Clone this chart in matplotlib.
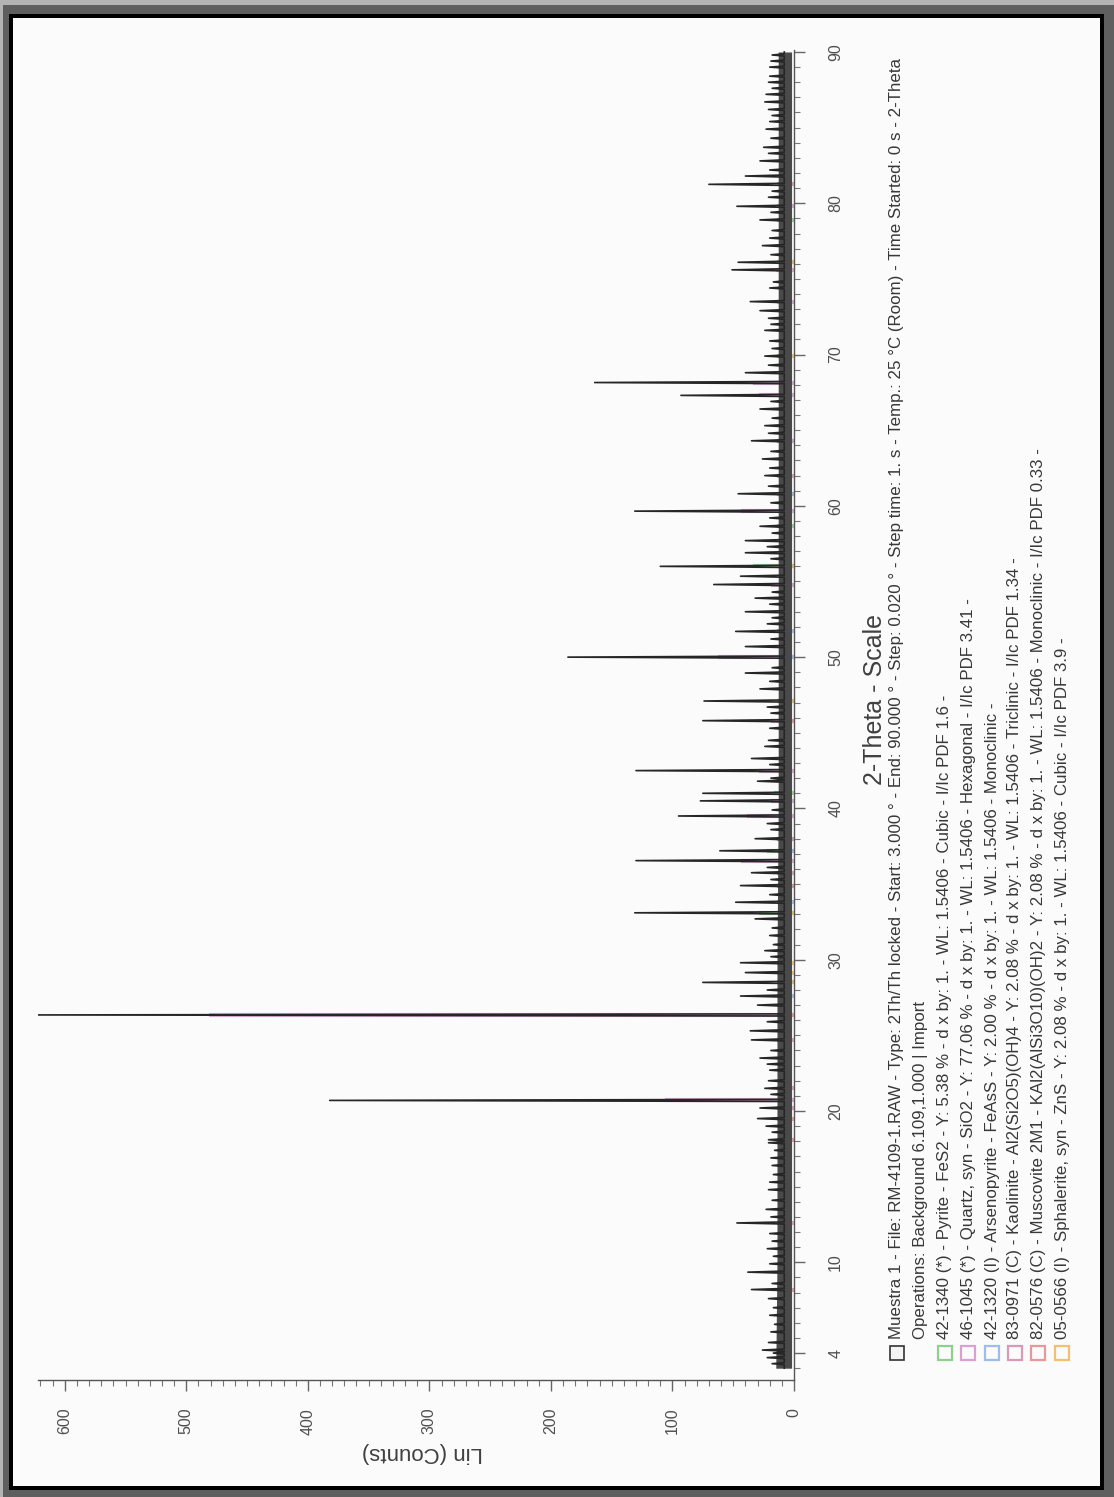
import numpy as np
import matplotlib
matplotlib.use('Agg')
import matplotlib.pyplot as plt
from matplotlib.patches import Rectangle

# ---------------- data ----------------
# measured pattern: main peaks (2-theta, Lin counts)
peak_theta = [4.2, 4.7, 8.2, 9.35, 12.6, 14.8, 16.4, 18.1, 19.5, 20.2, 20.7, 21.5,
              22.7, 23.5, 24.7, 25.3, 26.35, 27.0, 27.6, 28.5, 29.15, 29.8, 30.6,
              31.6, 32.7, 33.1, 33.8, 34.9, 35.75, 36.55, 37.2, 38.0, 39.5, 40.5,
              41.0, 41.8, 42.5, 43.3, 44.1, 45.8, 47.1, 47.9, 48.95, 50.0, 50.7,
              51.7, 53.0, 53.9, 54.8, 55.35, 56.0, 56.9, 57.7, 58.65, 59.65, 60.8,
              62.0, 63.1, 64.3, 65.3, 66.4, 67.3, 68.15, 68.8, 69.9, 71.6, 72.9,
              73.5, 75.6, 76.1, 77.2, 78.9, 79.8, 81.25, 81.8, 82.8, 83.7, 84.9,
              86.7, 87.2, 88.0, 89.0]
peak_counts = [26, 21, 35, 38, 47, 21, 18, 21, 30, 28, 382, 24,
               20, 28, 35, 36, 625, 30, 44, 75, 40, 44, 24,
               20, 32, 131, 48, 44, 35, 130, 61, 32, 95, 77,
               75, 30, 130, 35, 24, 75, 74, 28, 40, 186, 40,
               48, 40, 32, 66, 44, 110, 40, 40, 28, 131, 46,
               24, 26, 35, 24, 28, 93, 164, 40, 24, 24, 28,
               36, 51, 46, 26, 28, 47, 70, 40, 28, 25, 23,
               24, 23, 21, 20]

# small "grass" peaks along the baseline
grass_theta = [3.3, 3.7, 4.0, 5.4, 5.9, 6.5, 7.0, 7.6, 8.6, 9.9, 10.4, 10.9, 11.4,
               11.9, 13.0, 13.5, 14.1, 15.3, 15.8, 16.9, 17.4, 17.9, 18.6, 19.0,
               21.1, 22.0, 23.1, 24.0, 25.9, 28.0, 30.2, 31.0, 32.1, 34.3, 35.3,
               36.1, 38.6, 39.0, 39.9, 42.0, 42.9, 44.5, 45.3, 46.3, 46.7, 48.4,
               49.3, 51.2, 52.2, 52.6, 53.5, 54.3, 56.5, 57.3, 58.2, 59.2, 60.2,
               61.3, 62.5, 63.6, 64.8, 65.8, 66.9, 69.3, 70.4, 70.9, 72.0, 72.4,
               74.4, 74.8, 76.6, 77.7, 78.2, 79.4, 80.4, 80.8, 82.2, 83.3, 84.3,
               85.4, 85.8, 86.2, 87.6, 88.4, 89.4, 89.8]
grass_counts = [18, 22, 17, 19, 16, 20, 17, 21, 18, 20, 17, 22, 18,
                20, 19, 23, 18, 20, 17, 19, 16, 21, 18, 23,
                19, 21, 22, 19, 22, 22, 19, 17, 18, 20, 19,
                22, 19, 22, 18, 19, 20, 21, 20, 19, 22, 20,
                18, 19, 22, 18, 20, 18, 19, 22, 18, 20, 19,
                21, 20, 19, 21, 18, 19, 21, 18, 20, 19, 21,
                20, 17, 19, 20, 18, 19, 21, 18, 20, 21, 19,
                20, 18, 21, 18, 20, 19, 18]

# baseline noise band (2-theta, lower / upper counts)
band_theta = [3.0, 10.0, 20.0, 30.0, 40.0, 50.0, 60.0, 70.0, 80.0, 90.0]
band_low = [2, 2, 2, 2, 2, 2, 2, 2, 2, 2]
band_high = [15, 14, 14, 14, 13, 13, 13, 13, 13, 13]

# reference phases: name, Y (%), stick positions, relative intensities
phase_names = ["Pyrite", "Quartz", "Arsenopyrite", "Kaolinite", "Muscovite", "Sphalerite"]
phase_y = [5.38, 77.06, 2.00, 2.08, 2.08, 2.08]
pyrite_theta = [28.5, 33.1, 37.2, 41.0, 47.1, 56.0, 58.7, 60.8, 64.3, 76.1, 78.9, 81.25]
pyrite_int = [35, 85, 65, 50, 40, 100, 15, 15, 20, 10, 10, 10]
quartz_theta = [20.7, 26.35, 36.55, 39.5, 40.5, 42.5, 45.8, 50.0, 54.8, 59.65, 64.3,
                67.3, 68.15, 73.5, 75.6, 79.8, 81.25]
quartz_int = [22, 100, 9, 8, 4, 6, 4, 13, 4, 9, 2, 6, 7, 2, 3, 2, 2]
arseno_theta = [27.6, 33.8, 34.9, 37.2, 38.0, 50.0, 51.7, 56.0, 60.8]
arseno_int = [40, 100, 60, 60, 40, 45, 30, 30, 20]
kaol_theta = [12.6, 20.2, 21.5, 24.7, 35.75, 38.0, 62.0]
kaol_int = [100, 40, 30, 85, 30, 30, 20]
musc_theta = [8.2, 18.1, 19.5, 26.35, 34.9, 45.8]
musc_int = [100, 30, 40, 60, 50, 40]
sphal_theta = [28.5, 29.15, 29.8, 33.1, 47.1, 56.0, 69.9, 76.1]
sphal_int = [100, 80, 60, 10, 50, 30, 6, 9]
phase_theta = [pyrite_theta, quartz_theta, arseno_theta, kaol_theta, musc_theta, sphal_theta]
phase_int = [pyrite_int, quartz_int, arseno_int, kaol_int, musc_int, sphal_int]
phase_colors = ['#8fd08f', '#d9a0d0', '#9fbdea', '#d99ab8', '#e8989a', '#f1c070']

count_ticks = [0, 100, 200, 300, 400, 500, 600]
theta_ticks = [4, 10, 20, 30, 40, 50, 60, 70, 80, 90]

legend_lines = [
    "Muestra 1 - File: RM-4109-1.RAW - Type: 2Th/Th locked - Start: 3.000 ° - End: 90.000 ° - Step: 0.020 ° - Step time: 1. s - Temp.: 25 °C (Room) - Time Started: 0 s - 2-Theta",
    "Operations: Background 6.109,1.000 | Import",
    "42-1340 (*) - Pyrite - FeS2 - Y: 5.38 % - d x by: 1. - WL: 1.5406 - Cubic - I/Ic PDF 1.6 -",
    "46-1045 (*) - Quartz, syn - SiO2 - Y: 77.06 % - d x by: 1. - WL: 1.5406 - Hexagonal - I/Ic PDF 3.41 -",
    "42-1320 (I) - Arsenopyrite - FeAsS - Y: 2.00 % - d x by: 1. - WL: 1.5406 - Monoclinic -",
    "83-0971 (C) - Kaolinite - Al2(Si2O5)(OH)4 - Y: 2.08 % - d x by: 1. - WL: 1.5406 - Triclinic - I/Ic PDF 1.34 -",
    "82-0576 (C) - Muscovite 2M1 - KAl2(AlSi3O10)(OH)2 - Y: 2.08 % - d x by: 1. - WL: 1.5406 - Monoclinic - I/Ic PDF 0.33 -",
    "05-0566 (I) - Sphalerite, syn - ZnS - Y: 2.08 % - d x by: 1. - WL: 1.5406 - Cubic - I/Ic PDF 3.9 -",
]

# ---------------- figure ----------------
W, H = 1114, 1497
plt.rcParams['font.family'] = ['Liberation Sans', 'DejaVu Sans']
fig = plt.figure(figsize=(W / 100, H / 100), dpi=100)
fig.patch.set_facecolor('#b4b4b4')


def rect_px(x, y, w, h, color, z):
    fig.add_artist(Rectangle((x / W, 1 - (y + h) / H), w / W, h / H,
                             transform=fig.transFigure, facecolor=color,
                             edgecolor='none', zorder=z))


rect_px(3, 5, W - 3, H - 5, '#5f5f5f', -10)
rect_px(9, 14, 1104 - 9, 1490 - 14, '#000000', -9)
rect_px(13, 18, 1100 - 13, 1486 - 18, '#fbfbfb', -8)

ax_left, ax_right, ax_top, ax_bot = 38, 794, 50, 1380
ax = fig.add_axes([ax_left / W, 1 - ax_bot / H, (ax_right - ax_left) / W, (ax_bot - ax_top) / H])
ax.patch.set_alpha(0)
ax.set_xlim(622, 0)
ax.set_ylim(2.22, 90.13)

bg = 8
pk = sorted(zip(peak_theta + grass_theta, peak_counts + grass_counts))
tt, cc = [3.0], [bg]
hw = 0.07
for p, h in pk:
    tt += [p - hw, p, p + hw]
    cc += [bg, h, bg]
tt.append(90.0)
cc.append(bg)

ax.fill_betweenx(band_theta, band_low, band_high, color='#4a4a4a', lw=0, zorder=2)

for th, it, yv, col in zip(phase_theta, phase_int, phase_y, phase_colors):
    scale = yv / 100 * 625 / 100
    hts = [max(v * scale, 14) for v in it]
    ax.hlines(th, 0, hts, colors=col, lw=3.0, alpha=0.85, zorder=1)

ax.plot(cc, tt, color='#262626', lw=1.2, zorder=3)

for s in ['top', 'left']:
    ax.spines[s].set_visible(False)
for s in ['bottom', 'right']:
    ax.spines[s].set_color('#555555')
    ax.spines[s].set_linewidth(1.0)

ax.yaxis.set_ticks_position('right')
ax.set_xticks(count_ticks)
ax.set_xticklabels([str(v) for v in count_ticks])
ax.set_xticks(np.arange(0, 621, 10), minor=True)
ax.set_yticks(theta_ticks)
ax.set_yticklabels([str(v) for v in theta_ticks])
ax.set_yticks(np.arange(3, 91, 1), minor=True)
ax.tick_params(axis='x', which='major', direction='out', length=8, width=1, color='#666666',
               labelrotation=90, pad=12, labelsize=11.5, labelcolor='#505050')
ax.tick_params(axis='x', which='minor', direction='out', length=4, width=0.8, color='#777777')
ax.tick_params(axis='y', which='major', direction='out', length=8, width=1, color='#666666',
               labelrotation=90, pad=22, labelsize=11.5, labelcolor='#505050')
ax.tick_params(axis='y', which='minor', direction='out', length=4, width=0.8, color='#777777')
for lab in ax.get_yticklabels():
    lab.set_horizontalalignment('center')
    lab.set_verticalalignment('center')

# axis titles
fig.text(422 / W, 1 - 1452 / H, "Lin (Counts)", rotation=180, ha='center', va='center',
         fontsize=16, color='#404040')
fig.text(875 / W, 1 - 700 / H, "2-Theta - Scale", rotation=90, ha='center', va='center',
         fontsize=18, color='#404040')

# legend
line_x = [897, 920, 945, 968, 992, 1015, 1038, 1062]
for i, (lx, txt) in enumerate(zip(line_x, legend_lines)):
    fig.text(lx / W, 1 - 1339 / H, txt, rotation=90, ha='center', va='bottom',
             fontsize=12.2, color='#383838')
box = 14
fig.add_artist(Rectangle(((line_x[0] - box / 2) / W, 1 - (1353 + box / 2) / H), box / W, box / H,
                         transform=fig.transFigure, facecolor='#f4f4f4', edgecolor='#333333', lw=1.2))
for lx, col in zip(line_x[2:], phase_colors):
    fig.add_artist(Rectangle(((lx - box / 2) / W, 1 - (1353 + box / 2) / H), box / W, box / H,
                             transform=fig.transFigure, facecolor='#fbfbfb', edgecolor=col, lw=1.6))

fig.savefig('out.png', dpi=100, facecolor=fig.get_facecolor())
